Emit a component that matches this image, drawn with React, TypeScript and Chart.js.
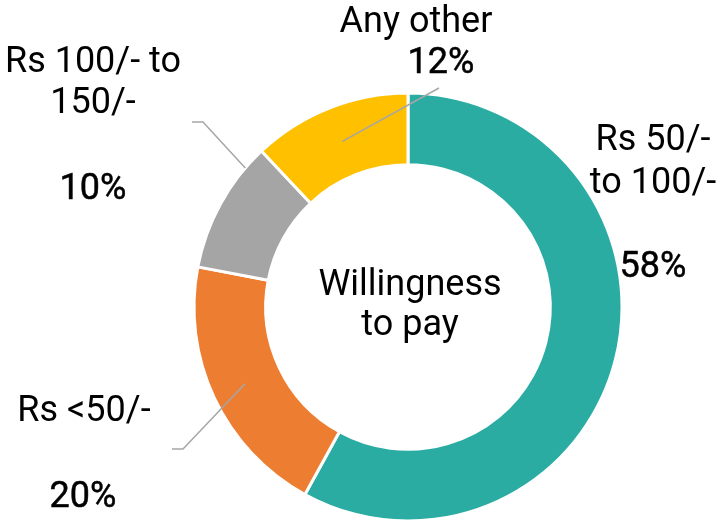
import React, { useEffect, useRef } from "react";
import { Chart, registerables } from "chart.js";

Chart.register(...registerables);

const categories = ["Rs 50/- to 100/-", "Rs <50/-", "Rs 100/- to 150/-", "Any other"];
const shares = [58, 20, 10, 12];
const colors = ["#2BACA3", "#ED7D31", "#A5A5A5", "#FFC000"];
const centerTitle = ["Willingness", "to pay"];

// label lines per slice (category name lines, then percent)
const labelLines = [
  ["Rs 50/-", "to 100/-"],
  ["Rs <50/-"],
  ["Rs 100/- to", "150/-"],
  ["Any other"],
];

// layout of label text (offsets from doughnut centre, in px)
const labelLayout = [
  { x: 245, ys: [-157, -114], py: -30, px: 245 },
  { x: -324, ys: [114], py: 200, px: -325 },
  { x: -315, ys: [-235, -194], py: -108, px: -315 },
  { x: 8, ys: [-275], py: -234, px: 33 },
];

const FONT = "Roboto, 'Liberation Sans', sans-serif";

export default function App() {
  const ref = useRef<HTMLCanvasElement | null>(null);
  useEffect(() => {
    const canvas = ref.current!;
    const labelPlugin = {
      id: "labels",
      afterDraw(chart: any) {
        const ctx = chart.ctx as CanvasRenderingContext2D;
        const meta = chart.getDatasetMeta(0);
        const arc0 = meta.data[0] as any;
        const { x: cx, y: cy, outerRadius, innerRadius } = arc0.getProps(
          ["x", "y", "outerRadius", "innerRadius"],
          true
        );
        const mid = (outerRadius + innerRadius) / 2;
        ctx.save();
        // leader lines
        ctx.strokeStyle = "#A6A6A6";
        ctx.lineWidth = 1.5;
        const pt = (i: number, r: number) => {
          const a = meta.data[i] as any;
          const { startAngle, endAngle } = a.getProps(["startAngle", "endAngle"], true);
          const m = (startAngle + endAngle) / 2;
          return [cx + Math.cos(m) * r, cy + Math.sin(m) * r];
        };
        // Any other
        {
          const [ex, ey] = pt(3, mid);
          ctx.beginPath();
          ctx.moveTo(cx + 31, cy - 219);
          ctx.lineTo(ex, ey);
          ctx.stroke();
        }
        // Rs 100/- to 150/-
        {
          const a = meta.data[2] as any;
          const { endAngle } = a.getProps(["startAngle", "endAngle"], true);
          const m = endAngle - 0.11;
          ctx.beginPath();
          ctx.moveTo(cx - 216, cy - 185);
          ctx.lineTo(cx - 205, cy - 185);
          ctx.lineTo(cx + Math.cos(m) * outerRadius, cy + Math.sin(m) * outerRadius);
          ctx.stroke();
        }
        // Rs <50/-
        {
          const [ex, ey] = pt(1, mid + 2);
          ctx.beginPath();
          ctx.moveTo(cx - 236, cy + 142);
          ctx.lineTo(cx - 225, cy + 142);
          ctx.lineTo(ex, ey);
          ctx.stroke();
        }
        // texts
        ctx.fillStyle = "#000000";
        ctx.strokeStyle = "#000000";
        ctx.textAlign = "center";
        ctx.textBaseline = "alphabetic";
        labelLayout.forEach((l, i) => {
          ctx.font = `400 36px ${FONT}`;
          labelLines[i].forEach((t, j) => ctx.fillText(t, cx + l.x, cy + l.ys[j]));
          ctx.lineWidth = 0.5;
          const pct = `${shares[i]}%`;
          ctx.fillText(pct, cx + l.px, cy + l.py);
          ctx.strokeText(pct, cx + l.px, cy + l.py);
        });
        ctx.font = `400 36px ${FONT}`;
        ctx.fillText(centerTitle[0], cx + 2, cy - 12);
        ctx.fillText(centerTitle[1], cx + 2, cy + 28);
        ctx.restore();
      },
    };
    const chart = new Chart(canvas, {
      type: "doughnut",
      data: {
        labels: categories,
        datasets: [
          {
            data: shares,
            backgroundColor: colors,
            borderColor: "#ffffff",
            borderWidth: 3,
          },
        ],
      },
      options: {
        responsive: false,
        animation: false,
        cutout: "66.5%",
        rotation: 0,
        layout: { padding: { top: 91.5, bottom: 17.5, left: 192.5, right: 93.5 } },
        plugins: { legend: { display: false }, tooltip: { enabled: false } },
      },
      plugins: [labelPlugin],
    });
    return () => chart.destroy();
  }, []);
  return (
    <div
      style={{
        position: "fixed",
        left: 0,
        top: 0,
        width: 717,
        height: 520,
        overflow: "hidden",
        background: "#fff",
      }}
    >
      <canvas ref={ref} width={717} height={540} style={{ display: "block" }} />
    </div>
  );
}
